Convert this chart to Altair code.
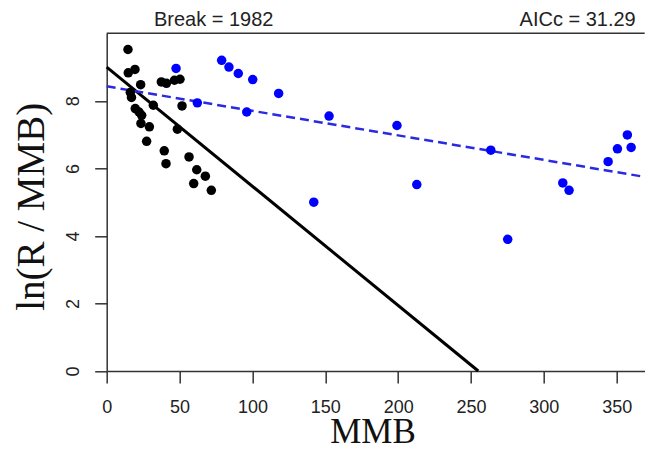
import altair as alt
import pandas as pd

# Early period (black points)
early_mmb = [14.6, 14.8, 19.4, 23.3, 16.2, 17.0, 19.6, 22.2, 24.0, 23.5, 29.3, 27.4,
             32.0, 37.5, 41.0, 46.5, 50.3, 51.7, 48.5, 39.5, 40.7, 56.5, 61.8, 67.7,
             59.7, 71.8]
early_ln = [9.52, 8.83, 8.93, 8.48, 8.25, 8.10, 7.77, 7.67, 7.57, 7.33, 7.23, 6.80,
            7.87, 8.56, 8.52, 8.61, 8.64, 7.85, 7.16, 6.52, 6.14, 6.34, 5.96, 5.77,
            5.55, 5.35]

# Late period (blue points)
late_mmb = [47.6, 62.2, 78.9, 83.9, 90.3, 100.2, 96.1, 118.0, 152.6, 142.1, 199.2,
            212.8, 263.6, 275.2, 313.0, 317.3, 344.1, 350.5, 357.3, 359.9]
late_ln = [8.96, 7.94, 9.20, 9.00, 8.81, 8.63, 7.67, 8.22, 7.55, 5.00, 7.27,
           5.52, 6.54, 3.90, 5.57, 5.35, 6.20, 6.58, 6.99, 6.62]

# Fitted lines (end points)
fit_early_x = [0, 255]
fit_early_y = [9.0, 0.0]
fit_late_x = [0, 369]
fit_late_y = [8.43, 5.75]

x_ticks = [0, 50, 100, 150, 200, 250, 300, 350]
y_ticks = [0, 2, 4, 6, 8]

title_left = "Break = 1982"
title_right = "AICc = 31.29"

W, H = 538, 337.7
XMAX = 369.2

early = pd.DataFrame({"MMB": early_mmb, "ln": early_ln})
late = pd.DataFrame({"MMB": late_mmb, "ln": late_ln})
fe = pd.DataFrame({"MMB": fit_early_x, "ln": fit_early_y})
fl = pd.DataFrame({"MMB": fit_late_x, "ln": fit_late_y})

xscale = alt.Scale(domain=[0, XMAX], nice=False, zero=False)
yscale = alt.Scale(domain=[0, 10], nice=False, zero=False)

xaxis = alt.Axis(values=x_ticks, title="MMB", grid=False, tickSize=12,
                 tickColor="#333", tickWidth=1.5, domainColor="#333", domainWidth=1.5,
                 labelFont="Liberation Sans", labelFontSize=18, labelColor="#222",
                 labelBaseline="alphabetic", labelPadding=30, labelFlush=False,
                 titleFont="Liberation Serif", titleFontSize=35, titleFontWeight="normal",
                 titleColor="#111", titleBaseline="alphabetic", titleAlign="center",
                 titleX=265.8, titleY=72)
yaxis = alt.Axis(values=y_ticks, title="ln(R / MMB)", grid=False, tickSize=12,
                 tickColor="#333", tickWidth=1.5, domainColor="#333", domainWidth=1.5,
                 labelFont="Liberation Sans", labelFontSize=18, labelColor="#222",
                 labelAngle=270, labelAlign="center", labelBaseline="alphabetic",
                 labelPadding=16, labelFlush=False,
                 titleFont="Liberation Serif", titleFontSize=39, titleFontWeight="normal",
                 titleColor="#111", titleAngle=270, titleBaseline="alphabetic",
                 titleAlign="center", titleX=-63, titleY=173)

x_enc = alt.X("MMB:Q", scale=xscale, axis=xaxis)
y_enc = alt.Y("ln:Q", scale=yscale, axis=yaxis)

line_early = alt.Chart(fe).mark_line(color="black", strokeWidth=3).encode(x=x_enc, y=y_enc)
line_late = alt.Chart(fl).mark_line(color="#2a2ae0", strokeWidth=2.5,
                                    strokeDash=[9, 5]).encode(x=x_enc, y=y_enc)
pts_early = alt.Chart(early).mark_circle(color="black", size=90, opacity=1).encode(x=x_enc, y=y_enc)
pts_late = alt.Chart(late).mark_circle(color="#0000ff", size=90, opacity=1).encode(x=x_enc, y=y_enc)

top_border = alt.Chart(pd.DataFrame({"a": [0]})).mark_rule(
    color="#333", strokeWidth=1.5).encode(x=alt.value(0), x2=alt.value(W), y=alt.value(0))

t_left = alt.Chart(pd.DataFrame({"t": [title_left]})).mark_text(
    font="Liberation Sans", fontSize=20, color="#222", align="center",
    baseline="alphabetic").encode(text="t:N", x=alt.value(107), y=alt.value(-7))
t_right = alt.Chart(pd.DataFrame({"t": [title_right]})).mark_text(
    font="Liberation Sans", fontSize=20, color="#222", align="right",
    baseline="alphabetic").encode(text="t:N", x=alt.value(529), y=alt.value(-7))

chart = alt.layer(line_early, line_late, pts_early, pts_late, top_border, t_left, t_right).properties(
    width=W, height=H,
    autosize=alt.AutoSizeParams(type="none"),
    padding={"left": 98.7, "top": 25.3, "right": 0, "bottom": 73},
    background="white",
).configure_view(stroke=None)

chart.save("out.html", embed_options={"renderer": "svg", "actions": False})
